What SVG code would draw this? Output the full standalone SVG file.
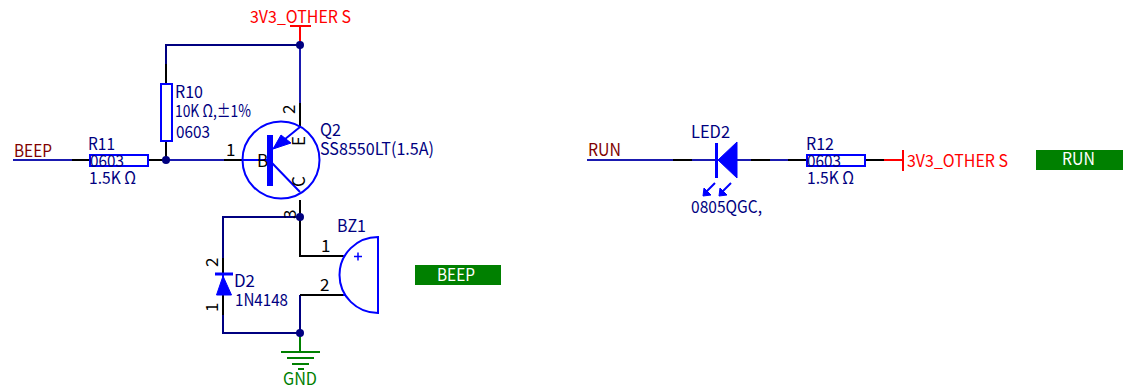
<svg xmlns="http://www.w3.org/2000/svg" width="1123" height="389" viewBox="0 0 1123 389">
<style>
text{font-family:"Noto Sans CJK SC","Noto Sans",sans-serif;font-size:17px}
.w{fill:none;stroke:#000080;stroke-width:2}
.p{fill:none;stroke:#000;stroke-width:2}
.r{fill:none;stroke:#f00;stroke-width:2}
.g{fill:none;stroke:#008000;stroke-width:2}
.s{fill:none;stroke:#00f;stroke-width:2}
.f{fill:#00f;stroke:#00f}
.d{fill:#000080}
.n{fill:#000080}
.k{fill:#000}
.lr{fill:#f00}
.nl{fill:#800000}
.lb{fill:#008000}
.wt{fill:#fff}
</style>
<rect width="1123" height="389" fill="#fff"/>
<g id="connectors">
<path class="w" style="stroke:#1a1ab0" d="M13 160H72M166 160H224M692 160H716M737 160H751M770 160H788M587 160H673"/>
<path class="w" d="M166 64V45H300M223 258V217H300M223 315V333H300V295"/>
<path class="w" style="stroke:#1a1ab0" d="M300 45V103"/>
<path class="p" d="M72 160H90M148 160H166M166 64V84M166 141V160M224 160H243M300 103V127M300 200V217M300 217V256H343M300 295H343M223 258V273M223 295V315M673 160H692M751 160H770M788 160H807M865 160H884"/>
<path class="r" d="M300 27V45M884 160H903"/>
<path class="g" d="M300 333V352"/>
<circle class="d" cx="166" cy="160" r="4"/>
<circle class="d" cx="300" cy="45" r="4"/>
<circle class="d" cx="300" cy="217" r="4"/>
<circle class="d" cx="300" cy="333" r="4"/>
</g>
<g id="net-3v3-top">
<path class="r" d="M290 26H311"/>
<text class="lr" x="250" y="23" textLength="101" lengthAdjust="spacingAndGlyphs">3V3_OTHER S</text>
</g>
<g id="net-beep">
<text class="nl" x="14" y="157" textLength="38" lengthAdjust="spacingAndGlyphs">BEEP</text>
</g>
<g id="R11">
<rect class="s" x="90" y="155" width="58" height="11"/>
<text class="n" x="88" y="150" textLength="27" lengthAdjust="spacingAndGlyphs">R11</text>
<text class="n" x="90" y="167" textLength="34" lengthAdjust="spacingAndGlyphs">0603</text>
<text class="n" x="89" y="184" textLength="47" lengthAdjust="spacingAndGlyphs">1.5K Ω</text>
</g>
<g id="R10">
<rect class="s" x="161" y="84" width="11" height="57"/>
<text class="n" x="175" y="98" textLength="28" lengthAdjust="spacingAndGlyphs">R10</text>
<text class="n" x="175" y="117" textLength="76" lengthAdjust="spacingAndGlyphs">10K Ω,±1%</text>
<text class="n" x="176" y="138" textLength="34" lengthAdjust="spacingAndGlyphs">0603</text>
</g>
<g id="Q2">
<circle class="s" cx="281" cy="160" r="38.5"/>
<path d="M270 135V186" stroke="#00f" stroke-width="6" fill="none"/>
<path class="s" d="M243 160H270M272 163L300 192M274 148L300 127"/>
<path class="f" d="M273 149L281 135L291 143Z"/>
<text class="k" x="226" y="156">1</text>
<text class="k" x="257" y="167">B</text>
<text class="k" transform="translate(295,114) rotate(-90)">2</text>
<text class="k" transform="translate(305,146) rotate(-90)">E</text>
<text class="k" transform="translate(305,187) rotate(-90)">C</text>
<text class="k" transform="translate(296,219) rotate(-90)">3</text>
<text class="n" x="320" y="136" textLength="21" lengthAdjust="spacingAndGlyphs">Q2</text>
<text class="n" x="320" y="155" textLength="114" lengthAdjust="spacingAndGlyphs">SS8550LT(1.5A)</text>
</g>
<g id="D2">
<path class="f" d="M223 276L216.500 295H231.500Z"/>
<path d="M215 274H233" stroke="#00f" stroke-width="3" fill="none"/>
<path class="s" d="M223 273V295"/>
<text class="k" transform="translate(218,267) rotate(-90)">2</text>
<text class="k" transform="translate(218,312) rotate(-90)">1</text>
<text class="n" x="234" y="287" textLength="21" lengthAdjust="spacingAndGlyphs">D2</text>
<text class="n" x="235" y="306" textLength="53" lengthAdjust="spacingAndGlyphs">1N4148</text>
</g>
<g id="BZ1">
<path class="s" d="M378 237V313A38.500 38 0 0 1 378 237Z"/>
<path class="s" d="M343 256H345M343 295H345"/>
<path d="M354 256.500H362M358 252.500V260.500" stroke="#00f" stroke-width="1.500" fill="none"/>
<text class="n" x="337" y="232" textLength="29" lengthAdjust="spacingAndGlyphs">BZ1</text>
<text class="k" x="321" y="252">1</text>
<text class="k" x="320" y="291">2</text>
</g>
<g id="GND">
<path class="g" d="M281 352H320M287 358H314M292 364H309M298 369H304"/>
<text class="lb" x="283" y="385" textLength="34" lengthAdjust="spacingAndGlyphs">GND</text>
</g>
<g id="label-beep">
<rect x="415" y="265" width="86" height="20" fill="#008000"/>
<text class="wt" x="437" y="281" textLength="38" lengthAdjust="spacingAndGlyphs">BEEP</text>
</g>
<g id="net-run">
<text class="nl" x="588" y="156" textLength="33" lengthAdjust="spacingAndGlyphs">RUN</text>
</g>
<g id="LED2">
<path class="f" d="M718 160L737 142V178Z"/>
<path d="M716.500 143V178" stroke="#00f" stroke-width="3" fill="none"/>
<path class="s" d="M716 160H737"/>
<path class="s" d="M715 183L706 192M731 183L722 192"/>
<path class="f" d="M703 196L704 188L711 195ZM719 196L720 188L727 195Z"/>
<text class="n" x="691" y="138" textLength="39" lengthAdjust="spacingAndGlyphs">LED2</text>
<text class="n" x="691" y="213" textLength="71" lengthAdjust="spacingAndGlyphs">0805QGC,</text>
</g>
<g id="R12">
<rect class="s" x="807" y="155" width="58" height="11"/>
<text class="n" x="806" y="150" textLength="28" lengthAdjust="spacingAndGlyphs">R12</text>
<text class="n" x="807" y="167" textLength="34" lengthAdjust="spacingAndGlyphs">0603</text>
<text class="n" x="807" y="184" textLength="47" lengthAdjust="spacingAndGlyphs">1.5K Ω</text>
</g>
<g id="net-3v3-right">
<path class="r" d="M903 150V171"/>
<text class="lr" x="907" y="167" textLength="101" lengthAdjust="spacingAndGlyphs">3V3_OTHER S</text>
</g>
<g id="label-run">
<rect x="1036" y="150" width="87" height="20" fill="#008000"/>
<text class="wt" x="1062" y="165" textLength="33" lengthAdjust="spacingAndGlyphs">RUN</text>
</g>
</svg>
